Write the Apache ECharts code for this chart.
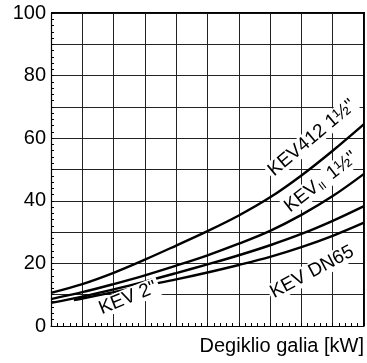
<!DOCTYPE html>
<html>
<head>
<meta charset="utf-8">
<script src="https://cdn.jsdelivr.net/npm/echarts@6/dist/echarts.min.js"></script>
<style>
html,body{margin:0;padding:0;background:#fff;}
#c{width:367px;height:363px;}
</style>
</head>
<body>
<div id="c"></div>
<script>
var xValues = [0, 1, 2, 3, 4, 5, 6, 7, 8, 9, 10];
var kev412 = [10.6, 13.4, 17.0, 21.2, 25.7, 30.3, 35.3, 41.1, 48.1, 56.0, 64.5];
var kevII = [8.6, 10.8, 13.4, 16.2, 19.3, 22.6, 26.3, 30.4, 35.5, 41.5, 48.6];
var kev2 = [7.4, 9.4, 11.7, 14.2, 16.9, 19.7, 22.6, 25.8, 29.4, 33.6, 38.3];
var dn65X = [0.73, 1, 2, 3, 4, 5, 6, 7, 8, 9, 10];
var dn65 = [8.3, 8.8, 10.8, 12.9, 14.9, 17.1, 19.5, 22.1, 25.2, 28.8, 33.0];
var yTicks = [0, 20, 40, 60, 80, 100];

function pairs(xs, ys) { return xs.map(function (x, i) { return [x, ys[i]]; }); }

var font = '"Liberation Sans", Arial, Helvetica, sans-serif';
var chart = echarts.init(document.getElementById('c'), null, {renderer: 'canvas'});
var lineStyle = {color: '#000', width: 2.4};
function mk(name, data) {
  return {name: name, type: 'line', data: data, smooth: 0.35, showSymbol: false, symbol: 'none',
    lineStyle: lineStyle, z: 3, animation: false};
}
var opt = {
  animation: false,
  grid: {left: 51, right: 3, top: 13, bottom: 37},
  xAxis: {
    type: 'value', min: 0, max: 10, interval: 1,
    axisLine: {show: true, onZero: false, lineStyle: {color: '#000', width: 1.2}},
    axisTick: {show: true, inside: true, length: 3, lineStyle: {color: '#000'}},
    minorTick: {show: true, splitNumber: 5, length: 3, lineStyle: {color: '#000'}},
    axisLabel: {show: false},
    splitLine: {show: true, lineStyle: {color: '#222', width: 1}}
  },
  yAxis: {
    type: 'value', min: 0, max: 100, interval: 10,
    axisLine: {show: true, onZero: false, lineStyle: {color: '#000', width: 1.2}},
    axisTick: {show: true, inside: true, length: 3, lineStyle: {color: '#000'}},
    minorTick: {show: true, splitNumber: 5, length: 3, lineStyle: {color: '#000'}},
    axisLabel: {
      color: '#000', fontSize: 20, fontFamily: font, margin: 5,
      formatter: function (v) { return yTicks.indexOf(v) >= 0 ? String(v) : ''; }
    },
    splitLine: {show: true, lineStyle: {color: '#222', width: 1}}
  },
  series: [
    mk('KEV412 1½"', pairs(xValues, kev412)),
    mk('KEV II 1½"', pairs(xValues, kevII)),
    mk('KEV 2"', pairs(xValues, kev2)),
    mk('KEV DN65', pairs(dn65X, dn65))
  ],
  graphic: [
    {type: 'rect', left: 363, top: 12, shape: {width: 1.5, height: 314}, style: {fill: '#000'}, z: 5},
    {type: 'rect', left: 51, top: 12, shape: {width: 314, height: 1.5}, style: {fill: '#000'}, z: 5},
    {type: 'text', right: 3, top: 336, z: 10,
      style: {text: 'Degiklio galia [kW]', fill: '#000', font: '20px ' + font}},
    {type: 'text', x: 312, y: 138, rotation: 40 * Math.PI / 180, z: 10,
      style: {text: 'KEV412 1½"', fill: '#000', font: '19px ' + font, align: 'center', verticalAlign: 'middle',
        backgroundColor: '#fff', padding: [0, 2]}},
    {type: 'text', x: 321, y: 182, rotation: 38 * Math.PI / 180, z: 10,
      style: {text: '{a|KEV}{s|II}{a| 1½"}', fill: '#000', align: 'center', verticalAlign: 'middle',
        backgroundColor: '#fff', padding: [0, 2],
        rich: {a: {fontSize: 19, fontFamily: font, fill: '#000'},
               s: {fontSize: 11, fontFamily: font, fill: '#000', padding: [9, 3, 0, 1]}}}},
    {type: 'text', x: 312, y: 272, rotation: 28 * Math.PI / 180, z: 10,
      style: {text: 'KEV DN65', fill: '#000', font: '19px ' + font, align: 'center', verticalAlign: 'middle',
        backgroundColor: '#fff', padding: [0, 2]}},
    {type: 'text', x: 128, y: 298, rotation: 22 * Math.PI / 180, z: 10,
      style: {text: 'KEV 2"', fill: '#000', font: '19px ' + font, align: 'center', verticalAlign: 'middle',
        backgroundColor: '#fff', padding: [0, 3]}}
  ]
};
chart.setOption(opt);
</script>
</body>
</html>
